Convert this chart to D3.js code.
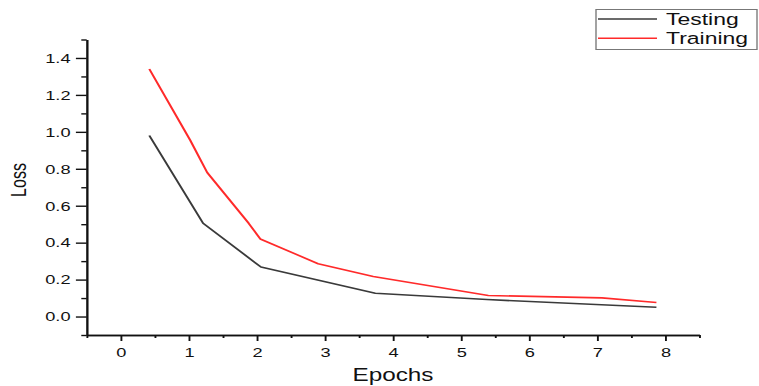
<!DOCTYPE html>
<html>
<head>
<meta charset="utf-8">
<script src="https://cdn.jsdelivr.net/npm/d3@7"></script>
<style>
  html, body { margin: 0; padding: 0; background: #fff; }
  svg { display: block; }
  text { font-family: "Liberation Sans", Arial, sans-serif; fill: #111; }
</style>
</head>
<body>
<div class="container"></div>
<script>
// values
var testingEpochs = [0.42, 1.21, 2.06, 3.74, 5.38, 7.87];
var testingLoss = [0.98, 0.505, 0.268, 0.126, 0.092, 0.05];

var trainingEpochs = [0.42, 1.02, 1.27, 1.88, 2.05, 2.90, 3.71, 5.40, 7.07, 7.87];
var trainingLoss = [1.34, 0.955, 0.78, 0.505, 0.42, 0.286, 0.217, 0.114, 0.101, 0.076];

var xMajor = [0, 1, 2, 3, 4, 5, 6, 7, 8];
var xMinor = [-0.5, 0.5, 1.5, 2.5, 3.5, 4.5, 5.5, 6.5, 7.5, 8.5];
var yMajor = [0, 0.2, 0.4, 0.6, 0.8, 1.0, 1.2, 1.4];
var yMinor = [-0.1, 0.1, 0.3, 0.5, 0.7, 0.9, 1.1, 1.3, 1.5];

var seriesNames = ['Testing', 'Training'];
var seriesColors = ['#3a3a3a', '#ff2a2a'];

// the original picture is stretched sideways, so draw in a narrower viewBox
var W = 759, H = 386, k = 1.35;
var vw = W / k;

var svg = d3.select('.container').append('svg')
  .attr('width', W)
  .attr('height', H)
  .attr('viewBox', '0 0 ' + vw + ' ' + H)
  .attr('preserveAspectRatio', 'none');

var x = d3.scaleLinear().domain([-0.5, 8.5]).range([86.7 / k, 699.3 / k]);
var y = d3.scaleLinear().domain([-0.1, 1.5]).range([335, 39.5]);

// x axis
var xAxisG = svg.append('g').attr('transform', 'translate(0,335)');
xAxisG.call(d3.axisBottom(x).tickValues(xMinor).tickSize(3).tickSizeOuter(0).tickFormat(''));
xAxisG.append('g').call(d3.axisBottom(x).tickValues(xMajor).tickSize(6).tickSizeOuter(0).tickPadding(6).tickFormat(d3.format('d')));

// y axis
var yAxisG = svg.append('g').attr('transform', 'translate(' + (86.7 / k) + ',0)');
yAxisG.call(d3.axisLeft(y).tickValues(yMinor).tickSize(4).tickSizeOuter(0).tickFormat(''));
yAxisG.append('g').call(d3.axisLeft(y).tickValues(yMajor).tickSize(8).tickSizeOuter(0).tickPadding(4).tickFormat(d3.format('.1f')));

svg.selectAll('.domain, .tick line').attr('stroke', '#111').attr('stroke-width', 1.4);
svg.selectAll('.tick text').style('font-size', '13.5px').style('fill', '#111');

// axis titles
svg.append('text')
  .attr('x', 393 / k)
  .attr('y', 381)
  .attr('text-anchor', 'middle')
  .style('font-size', '18px')
  .text('Epochs');

svg.append('text')
  .attr('transform', 'translate(' + (26 / k) + ',180) rotate(-90)')
  .attr('text-anchor', 'middle')
  .style('font-size', '16px')
  .text('Loss');

// lines
var line = d3.line()
  .x(function (d) { return x(d[0]); })
  .y(function (d) { return y(d[1]); });

var series = [
  d3.zip(testingEpochs, testingLoss),
  d3.zip(trainingEpochs, trainingLoss)
];

svg.selectAll('.series')
  .data(series)
  .enter()
  .append('path')
  .attr('class', 'series')
  .attr('d', line)
  .attr('fill', 'none')
  .attr('stroke', function (d, i) { return seriesColors[i]; })
  .attr('stroke-width', 1.6)
  .attr('stroke-linejoin', 'round');

// legend
var legend = svg.append('g');
legend.append('rect')
  .attr('x', 596 / k)
  .attr('y', 9.5)
  .attr('width', (757 - 596) / k)
  .attr('height', 40)
  .attr('fill', '#fff')
  .attr('stroke', '#777')
  .attr('stroke-width', 1);

var item = legend.selectAll('.item')
  .data(seriesNames)
  .enter()
  .append('g')
  .attr('class', 'item')
  .attr('transform', function (d, i) { return 'translate(0,' + (19 + i * 19.3) + ')'; });

item.append('line')
  .attr('x1', 598 / k)
  .attr('x2', 657 / k)
  .attr('stroke', function (d, i) { return seriesColors[i]; })
  .attr('stroke-width', 1.6);

item.append('text')
  .attr('x', 666 / k)
  .attr('y', 6)
  .style('font-size', '17px')
  .text(function (d) { return d; });
</script>
</body>
</html>
